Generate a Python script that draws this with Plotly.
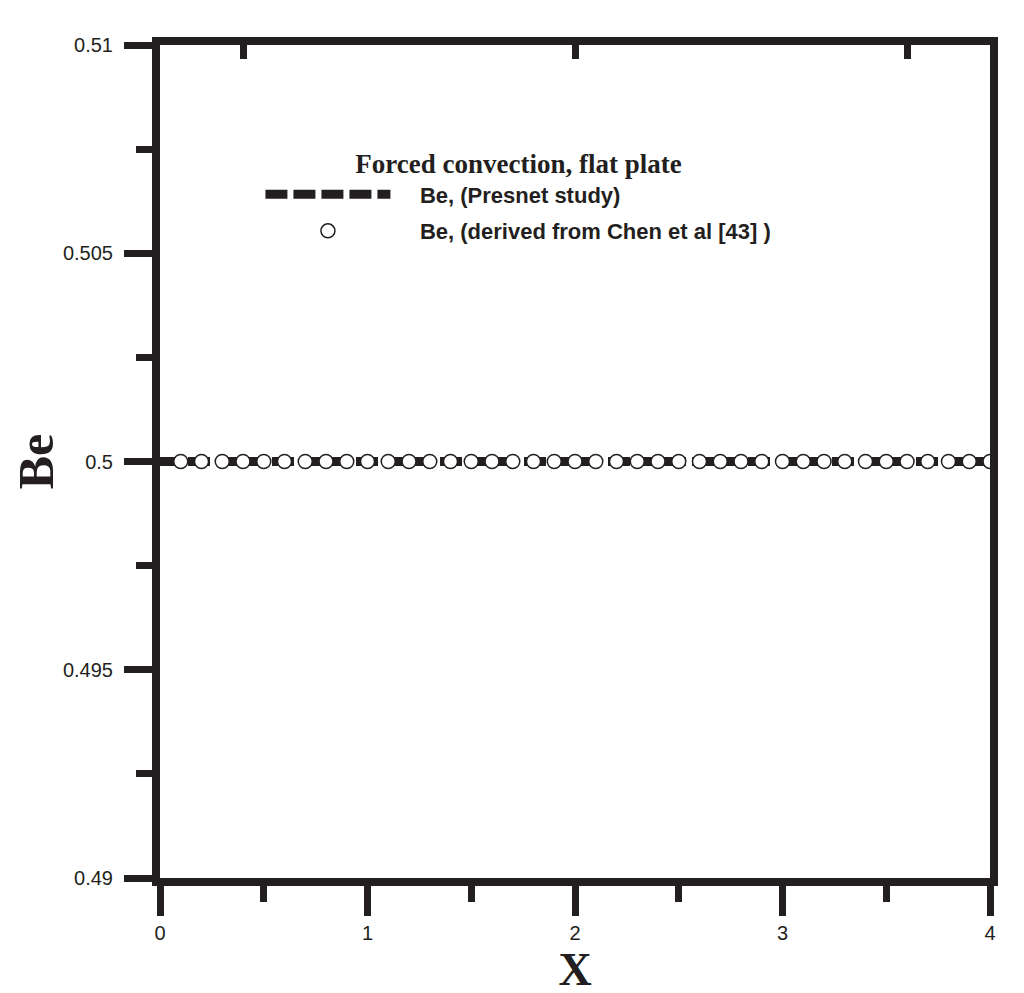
import plotly.graph_objects as go

# data
present_x = [0.0, 4.0]
present_be = [0.5, 0.5]

chen_x = [0.1, 0.2, 0.3, 0.4, 0.5, 0.6, 0.7, 0.8, 0.9, 1.0,
          1.1, 1.2, 1.3, 1.4, 1.5, 1.6, 1.7, 1.8, 1.9, 2.0,
          2.1, 2.2, 2.3, 2.4, 2.5, 2.6, 2.7, 2.8, 2.9, 3.0,
          3.1, 3.2, 3.3, 3.4, 3.5, 3.6, 3.7, 3.8, 3.9, 4.0]
chen_be = [0.5, 0.5, 0.5, 0.5, 0.5, 0.5, 0.5, 0.5, 0.5, 0.5,
           0.5, 0.5, 0.5, 0.5, 0.5, 0.5, 0.5, 0.5, 0.5, 0.5,
           0.5, 0.5, 0.5, 0.5, 0.5, 0.5, 0.5, 0.5, 0.5, 0.5,
           0.5, 0.5, 0.5, 0.5, 0.5, 0.5, 0.5, 0.5, 0.5, 0.5]

x_ticks = [0, 1, 2, 3, 4]
x_tick_labels = ["0", "1", "2", "3", "4"]
y_ticks = [0.49, 0.495, 0.5, 0.505, 0.51]
y_tick_labels = ["0.49", "0.495", "0.5", "0.505", "0.51"]
top_ticks = [0.4, 2.0, 3.6]

INK = "#231f20"
SANS = "Liberation Sans, Arial, sans-serif"
SERIF = "Liberation Serif, Times New Roman, serif"
PAD = "\u00a0" * 4  # gap between legend symbol and text

fig = go.Figure()
fig.add_trace(go.Scatter(x=present_x, y=present_be, mode="lines", name=PAD + "<b>Be, (Presnet study)</b>",
                         legendgroup="present",
                         line=dict(color=INK, width=9, dash="22px,6px")))
fig.add_trace(go.Scatter(x=chen_x, y=chen_be, mode="markers",
                         name=PAD + "<b>Be, (derived from Chen et al [43] )</b>", legendgroup="chen",
                         marker=dict(symbol="circle", size=14, color="white", line=dict(color=INK, width=1.5))))
# invisible trace so the top axis is drawn
fig.add_trace(go.Scatter(x=[0, 4], y=[0.5, 0.5], xaxis="x2", mode="lines", line=dict(width=0),
                         showlegend=False, hoverinfo="skip"))

# the page body adds an 8px offset, so margins are shifted to compensate
fig.update_layout(
    width=1024, height=993,
    margin=dict(l=152, r=42, t=37, b=123, autoexpand=False),
    paper_bgcolor="white", plot_bgcolor="white",
    font=dict(family=SANS, color=INK, size=19),
    showlegend=True,
    legend=dict(
        x=0.121, y=0.888, xanchor="left", yanchor="top",
        bgcolor="rgba(0,0,0,0)",
        title=dict(text="<b>Forced convection, flat plate</b>", side="top center",
                   font=dict(family=SERIF, size=27, color=INK)),
        font=dict(family=SANS, size=22, color=INK),
        itemwidth=125, tracegroupgap=5, traceorder="grouped",
    ),
    xaxis=dict(
        range=[0, 4], showgrid=False, zeroline=False,
        showline=True, linewidth=8, linecolor=INK,
        tickvals=x_ticks, ticktext=x_tick_labels,
        ticks="outside", ticklen=30, tickwidth=7, tickcolor=INK,
        ticklabelstandoff=0, tickfont=dict(size=20),
        minor=dict(dtick=0.5, ticks="outside", ticklen=16, tickwidth=7, tickcolor=INK, showgrid=False),
        title=dict(text="<b>X</b>", font=dict(family=SERIF, size=46, color=INK), standoff=0),
    ),
    xaxis2=dict(
        range=[0, 4], overlaying="x", side="top", showgrid=False, zeroline=False,
        showline=True, linewidth=8, linecolor=INK,
        tickvals=top_ticks, showticklabels=False,
        ticks="inside", ticklen=14, tickwidth=7, tickcolor=INK,
    ),
    yaxis=dict(
        range=[0.49, 0.51], showgrid=False, zeroline=False,
        showline=True, linewidth=8, linecolor=INK, mirror=True,
        tickvals=y_ticks, ticktext=y_tick_labels,
        ticks="outside", ticklen=28, tickwidth=7, tickcolor=INK,
        ticklabelstandoff=7, tickfont=dict(size=20),
        minor=dict(dtick=0.0025, ticks="outside", ticklen=16, tickwidth=7, tickcolor=INK, showgrid=False),
        title=dict(text="<b>Be</b>", font=dict(family=SERIF, size=50, color=INK), standoff=35),
    ),
)

fig.write_html("out.html")
